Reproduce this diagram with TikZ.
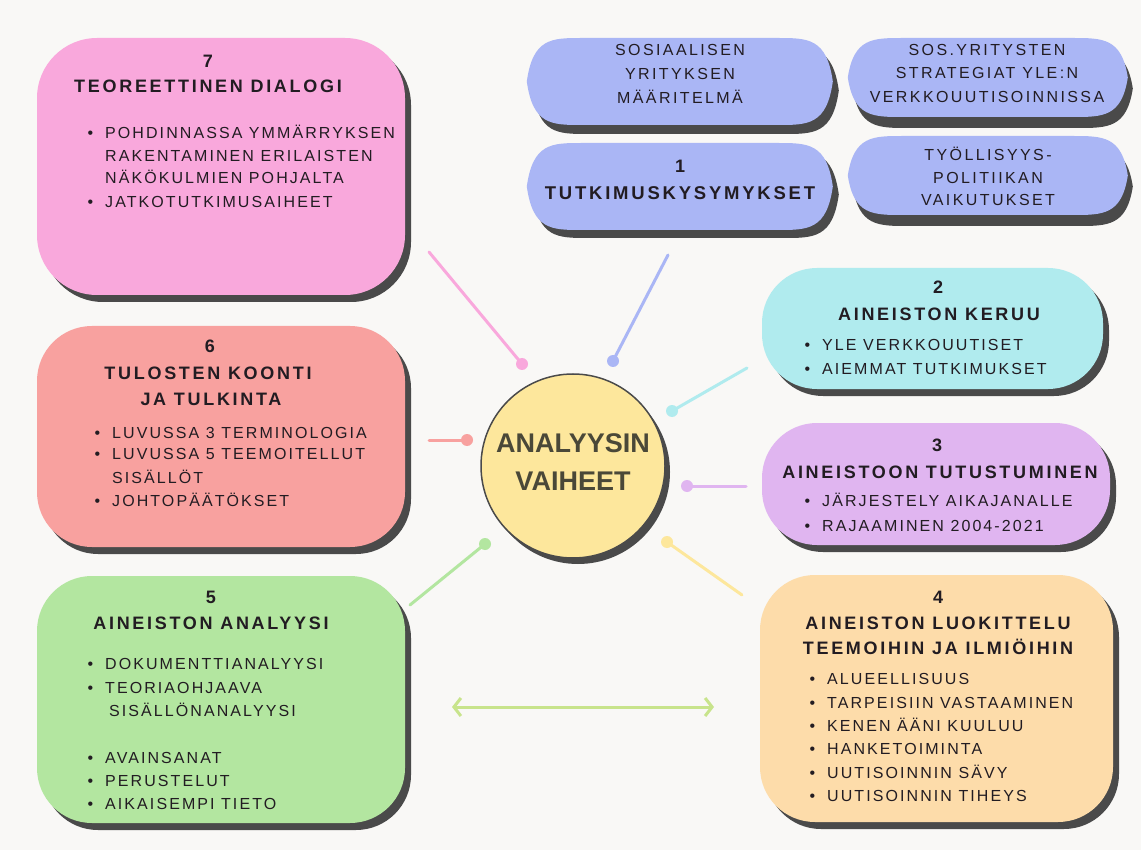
\documentclass[tikz,border=0pt]{standalone}
\usepackage{fontspec}
\setmainfont{Liberation Sans}
\newfontfamily\spaced[LetterSpace=13]{Liberation Sans}
\newfontfamily\headfont[LetterSpace=15]{Liberation Sans}
\usetikzlibrary{shadows,arrows.meta}

\definecolor{bg}{HTML}{F9F8F6}
\definecolor{ink}{HTML}{221C22}
\definecolor{centerink}{HTML}{4A4838}
\definecolor{shadowc}{HTML}{4A4A4A}
\definecolor{pinkc}{HTML}{F9A8DC}
\definecolor{salmonc}{HTML}{F8A19F}
\definecolor{greenc}{HTML}{B3E6A0}
\definecolor{peachc}{HTML}{FDDCAA}
\definecolor{lilacc}{HTML}{E0B5F0}
\definecolor{cyanc}{HTML}{B0EBEE}
\definecolor{bluec}{HTML}{AAB6F5}
\definecolor{yellowc}{HTML}{FDE79C}
\definecolor{limec}{HTML}{C8E48C}

\newcommand{\bul}{\llap{\textbullet\hspace{12pt}}}
% lens outline, drawn from the left tip: width, height
\def\lenspath[#1][#2]{.. controls +(6,-#2/2) and +(-30,0) .. ++(55,-#2/2)
  -- ++(#1-110,0) .. controls +(30,0) and +(-6,-#2/2) .. ++(55,#2/2)
  .. controls +(-6,#2/2) and +(30,0) .. ++(-55,#2/2)
  -- ++(-#1+110,0) .. controls +(-30,0) and +(6,#2/2) .. ++(-55,-#2/2) -- cycle}

\tikzset{
  panel/.style={inner sep=0pt, rounded corners=#1,
    drop shadow={shadow xshift=6pt, shadow yshift=-7pt, fill=shadowc, opacity=1}},
  panel/.default=55pt,
  lensbox/.style={inner sep=0pt},
  head/.style={anchor=base, inner sep=0pt, text=ink, font=\headfont\bfseries\fontsize{18}{21}\selectfont},
  item/.style={anchor=base west, inner sep=0pt, text=ink, font=\spaced\fontsize{16}{19}\selectfont},
  note/.style={anchor=base, inner sep=0pt, text=ink, font=\headfont\fontsize{16}{19}\selectfont},
  link/.style={line width=3pt, line cap=round},
  dot/.style={circle, fill=#1, minimum size=12pt, inner sep=0pt},
}

\begin{document}
\begin{tikzpicture}[x=1pt,y=-1pt]
\fill[bg] (0,0) rectangle (1141,850);

% connectors to the centre
\coordinate (p7) at (429,252);
\coordinate (p1) at (668,255);
\coordinate (p2) at (747,368);
\coordinate (p6) at (429,440);
\coordinate (p3) at (746,486);
\coordinate (p5) at (410,605);
\coordinate (p4) at (742,595);
\node[dot=pinkc] (d7) at (522,364) {};
\node[dot=bluec] (d1) at (613,361) {};
\node[dot=cyanc] (d2) at (672,411) {};
\node[dot=salmonc] (d6) at (467,440) {};
\node[dot=lilacc] (d3) at (687,486) {};
\node[dot=greenc] (d5) at (485,544) {};
\node[dot=yellowc] (d4) at (667,542) {};
\draw[link, pinkc] (p7) -- (d7.center);
\draw[link, bluec] (p1) -- (d1.center);
\draw[link, cyanc] (p2) -- (d2.center);
\draw[link, salmonc] (p6) -- (d6.center);
\draw[link, lilacc] (p3) -- (d3.center);
\draw[link, greenc] (p5) -- (d5.center);
\draw[link, yellowc] (p4) -- (d4.center);

% centre
\node[circle, draw=shadowc, line width=1.5pt, fill=yellowc, minimum size=184pt, inner sep=0pt,
  drop shadow={shadow xshift=5pt, shadow yshift=-6pt, fill=shadowc, opacity=1}] (vaiheet) at (573,466) {};
\node[anchor=base, inner sep=0pt, text=centerink, font=\bfseries\fontsize{27}{30}\selectfont] (vaiheet1) at (573,452) {ANALYYSIN};
\node[anchor=base, inner sep=0pt, text=centerink, font=\bfseries\fontsize{27}{30}\selectfont] (vaiheet2) at (573,490) {VAIHEET};

% 1 - research questions
\node[lensbox, minimum width=306pt, minimum height=87pt] (maaritelma) at (680,81.5) {};
\fill[shadowc] ([xshift=6pt,yshift=-9pt]maaritelma.west) \lenspath[306][87];
\fill[bluec] (maaritelma.west) \lenspath[306][87];
\foreach \yy/\txt [count=\i] in {56/SOSIAALISEN, 80/YRITYKSEN, 104/MÄÄRITELMÄ}
  \node[note] (maaritelma\i) at (680,\yy) {\txt};

\node[lensbox, minimum width=280pt, minimum height=79pt] (strategiat) at (988,77.5) {};
\fill[shadowc] ([xshift=5pt,yshift=-11pt]strategiat.west) \lenspath[280][79];
\fill[bluec] (strategiat.west) \lenspath[280][79];
\foreach \yy/\txt [count=\i] in {56/SOS.YRITYSTEN, 79/STRATEGIAT YLE:N, 103/VERKKOUUTISOINNISSA}
  \node[note] (strategiat\i) at (987,\yy) {\txt};

\node[lensbox, minimum width=306pt, minimum height=87pt] (kysymykset) at (680,186.5) {};
\fill[shadowc] ([xshift=6pt,yshift=-8pt]kysymykset.west) \lenspath[306][87];
\fill[bluec] (kysymykset.west) \lenspath[306][87];
\node[head] (kysymykset1) at (680,173) {1};
\node[head, font=\headfont\bfseries\fontsize{18.5}{21}\selectfont] (kysymykset2) at (680,200) {TUTKIMUSKYSYMYKSET};

\node[lensbox, minimum width=280pt, minimum height=79pt] (tyollisyys) at (988,175.5) {};
\fill[shadowc] ([xshift=5pt,yshift=-11pt]tyollisyys.west) \lenspath[280][79];
\fill[bluec] (tyollisyys.west) \lenspath[280][79];
\foreach \yy/\txt [count=\i] in {161/TYÖLLISYYS-, 184/POLITIIKAN, 206/VAIKUTUKSET}
  \node[note] (tyollisyys\i) at (988,\yy) {\txt};

% 2
\node[panel, fill=cyanc, minimum width=341pt, minimum height=121pt] (keruu) at (932.5,328.5) {};
\node[head] (keruu1) at (938,294) {2};
\node[head] (keruu2) at (939,321) {AINEISTON KERUU};
\foreach \yy/\txt [count=\i] in {351/\bul YLE VERKKOUUTISET, 374/\bul AIEMMAT TUTKIMUKSET}
  \node[item] (keruu-\i) at (822,\yy) {\txt};

% 3
\node[panel, fill=lilacc, minimum width=348pt, minimum height=122pt] (tutustuminen) at (936,484) {};
\node[head] (tutustuminen1) at (937,451) {3};
\node[head] (tutustuminen2) at (940,478) {AINEISTOON TUTUSTUMINEN};
\foreach \yy/\txt [count=\i] in {506/\bul JÄRJESTELY AIKAJANALLE, 531/\bul RAJAAMINEN 2004-2021}
  \node[item] (tutustuminen-\i) at (822,\yy) {\txt};

% 4
\node[panel, fill=peachc, minimum width=353pt, minimum height=247pt] (luokittelu) at (936.5,698.5) {};
\node[head] (luokittelu1) at (938,603) {4};
\node[head] (luokittelu2) at (938,629) {AINEISTON LUOKITTELU};
\node[head] (luokittelu3) at (938,654) {TEEMOIHIN JA ILMIÖIHIN};
\foreach \yy/\txt [count=\i] in {684/\bul ALUEELLISUUS, 708/\bul TARPEISIIN VASTAAMINEN,
    731/\bul KENEN ÄÄNI KUULUU, 754/\bul HANKETOIMINTA, 778/\bul UUTISOINNIN SÄVY,
    801/\bul UUTISOINNIN TIHEYS}
  \node[item] (luokittelu-\i) at (827,\yy) {\txt};

% 5
\node[panel, fill=greenc, minimum width=368pt, minimum height=247pt] (analyysi) at (221,699.5) {};
\node[head] (analyysi1) at (211,603) {5};
\node[head] (analyysi2) at (211,629) {AINEISTON ANALYYSI};
\foreach \yy/\txt [count=\i] in {669/\bul DOKUMENTTIANALYYSI, 693/\bul TEORIAOHJAAVA,
    716/\hspace*{4pt}SISÄLLÖNANALYYSI, 763/\bul AVAINSANAT, 786/\bul PERUSTELUT,
    809/\bul AIKAISEMPI TIETO}
  \node[item] (analyysi-\i) at (105,\yy) {\txt};

% 6
\node[panel, fill=salmonc, minimum width=368pt, minimum height=221pt] (koonti) at (221,436.5) {};
\node[head] (koonti1) at (210,353) {6};
\node[head] (koonti2) at (208,379) {TULOSTEN KOONTI};
\node[head] (koonti3) at (211,406) {JA TULKINTA};
\foreach \yy/\txt [count=\i] in {438/\bul LUVUSSA 3 TERMINOLOGIA, 459/\bul LUVUSSA 5 TEEMOITELLUT,
    483/SISÄLLÖT, 506/\bul JOHTOPÄÄTÖKSET}
  \node[item] (koonti-\i) at (112,\yy) {\txt};

% 7
\node[panel=60pt, fill=pinkc, minimum width=368pt, minimum height=257pt] (teoria) at (221,166.5) {};
\node[head] (teoria1) at (208,68) {7};
\node[head] (teoria2) at (208,93) {TEOREETTINEN DIALOGI};
\foreach \yy/\txt [count=\i] in {139/\bul POHDINNASSA YMMÄRRYKSEN, 162/RAKENTAMINEN ERILAISTEN,
    184/NÄKÖKULMIEN POHJALTA, 208/\bul JATKOTUTKIMUSAIHEET}
  \node[item] (teoria-\i) at (105,\yy) {\txt};

% between 5 and 4
\coordinate (a5) at (452,707);
\coordinate (a4) at (714,707);
\draw[link, limec, {Straight Barb[length=7pt,width=18pt]}-{Straight Barb[length=7pt,width=18pt]}] (a5) -- (a4);

\end{tikzpicture}
\end{document}
